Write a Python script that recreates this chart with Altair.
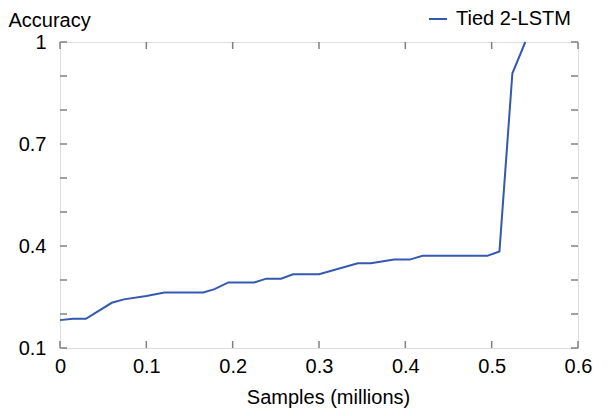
import altair as alt
import pandas as pd

samples = [0, 0.015, 0.030, 0.042, 0.060, 0.074, 0.100, 0.121, 0.166, 0.179, 0.195, 0.225,
           0.239, 0.256, 0.270, 0.300, 0.345, 0.360, 0.387, 0.405, 0.420, 0.495, 0.509,
           0.524, 0.539]
accuracy = [0.182, 0.186, 0.186, 0.205, 0.233, 0.243, 0.253, 0.263, 0.263, 0.273, 0.293, 0.293,
            0.304, 0.304, 0.317, 0.317, 0.349, 0.349, 0.360, 0.360, 0.371, 0.371, 0.384,
            0.908, 1.0]
series_name = "Tied 2-LSTM"
x_ticks = [0, 0.1, 0.2, 0.3, 0.4, 0.5, 0.6]
y_ticks = [0.1, 0.2, 0.3, 0.4, 0.5, 0.6, 0.7, 0.8, 0.9, 1.0]
y_labels = [0.1, 0.4, 0.7, 1.0]

W, H = 518, 306
FONT = "Liberation Sans"
GRAY = "#808080"
BLUE = "#3558b0"
TL = 7

df = pd.DataFrame({"x": samples, "y": accuracy, "series": series_name})
xt = pd.DataFrame({"x": x_ticks})
yt = pd.DataFrame({"y": y_ticks})

xscale = alt.Scale(domain=[0, 0.6], nice=False, zero=False)
yscale = alt.Scale(domain=[0.1, 1.0], nice=False, zero=False)

line = alt.Chart(df).mark_line(strokeWidth=2).encode(
    x=alt.X("x:Q", scale=xscale,
            axis=alt.Axis(values=x_ticks, ticks=False, domain=False, grid=False,
                          labelExpr="datum.value == 0 ? '0' : format(datum.value, '.1f')",
                          labelFont=FONT, labelFontSize=20, labelColor="black",
                          labelPadding=8, labelFlush=False,
                          title="Samples (millions)", titleFont=FONT, titleFontSize=20,
                          titleFontWeight="normal", titleColor="black",
                          titleX=268, titleY=55, titleAlign="center",
                          titleBaseline="alphabetic")),
    y=alt.Y("y:Q", scale=yscale,
            axis=alt.Axis(values=y_labels, ticks=False, domain=False, grid=False,
                          labelExpr="datum.value == 1 ? '1' : format(datum.value, '.1f')",
                          labelFont=FONT, labelFontSize=20, labelColor="black",
                          labelPadding=14, labelFlush=False, labelBaseline="middle",
                          title="Accuracy", titleFont=FONT, titleFontSize=20,
                          titleFontWeight="normal", titleColor="black",
                          titleAngle=0, titleX=-52, titleY=-16, titleAlign="left",
                          titleBaseline="alphabetic")),
    color=alt.Color("series:N", scale=alt.Scale(domain=[series_name], range=[BLUE]),
                    legend=alt.Legend(title=None, orient="none", legendX=368, legendY=-33,
                                      symbolType="stroke", symbolSize=324,
                                      symbolStrokeWidth=2, labelFont=FONT,
                                      labelFontSize=20, labelColor="black",
                                      labelOffset=8)),
)

tick_style = dict(color=GRAY, strokeWidth=1.5)
left = alt.Chart(yt).mark_rule(**tick_style).encode(
    y=alt.Y("y:Q", scale=yscale), x=alt.value(0), x2=alt.value(TL))
right = alt.Chart(yt).mark_rule(**tick_style).encode(
    y=alt.Y("y:Q", scale=yscale), x=alt.value(W - TL), x2=alt.value(W))
bottom = alt.Chart(xt).mark_rule(**tick_style).encode(
    x=alt.X("x:Q", scale=xscale), y=alt.value(H - TL), y2=alt.value(H))
top = alt.Chart(xt).mark_rule(**tick_style).encode(
    x=alt.X("x:Q", scale=xscale), y=alt.value(0), y2=alt.value(TL))

chart = alt.layer(left, right, bottom, top, line).properties(
    width=W, height=H,
    autosize=alt.AutoSizeParams(type="none"),
    padding={"left": 52, "top": 34, "right": 23, "bottom": 60},
).configure_view(stroke=GRAY, strokeWidth=1.5).configure(background="white")

chart.save("out.html", embed_options={"renderer": "svg", "actions": False})
